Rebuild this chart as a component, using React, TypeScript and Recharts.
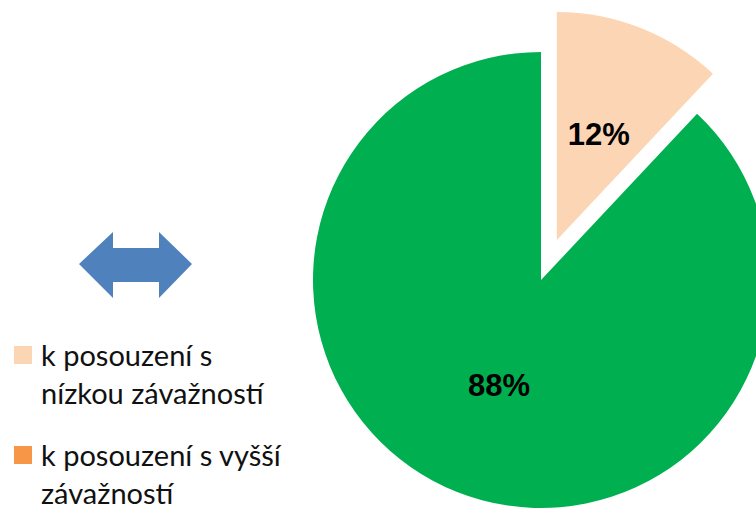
import { Cell, Pie, PieChart } from "recharts"

const categories = [
  "k posouzení s nízkou závažností",
  "ostatní",
]
const shares = [12, 88]
const sliceColors = ["#FCD5B5", "#00B050"]

const legendItems = [
  { lines: ["k posouzení s", "nízkou závažností"], color: "#FCD5B5" },
  { lines: ["k posouzení s vyšší", "závažností"], color: "#F79646" },
]

const data = categories.map((name, i) => ({ name, value: shares[i] }))

const RADIAN = Math.PI / 180
const RADIUS = 228
const CX = 541
const CY = 280
// explode offset for the first slice, along its bisector
const EXPLODE = 43

const makeLabel = (onlyIndex: number) => (props: any) => {
  const { cx, cy, midAngle, outerRadius, percent, index } = props
  if (index !== onlyIndex) return null
  const r = outerRadius * 0.5
  const x = cx + r * Math.cos(-midAngle * RADIAN)
  const y = cy + r * Math.sin(-midAngle * RADIAN)
  return (
    <text
      x={x}
      y={y}
      textAnchor="middle"
      dominantBaseline="central"
      fill="#000"
      fontFamily="'Liberation Sans', Arial, sans-serif"
      fontWeight="bold"
      fontSize={31}
    >
      {`${Math.round(percent * 100)}%`}
    </text>
  )
}

const midFirst = 90 - (shares[0] / (shares[0] + shares[1])) * 180
const ex = EXPLODE * Math.cos(midFirst * RADIAN)
const ey = -EXPLODE * Math.sin(midFirst * RADIAN)

export default function App() {
  return (
    <div
      style={{
        position: "fixed",
        left: 0,
        top: 0,
        width: 756,
        height: 508,
        overflow: "hidden",
        background: "#fff",
      }}
    >
      <PieChart width={756} height={508} margin={{ top: 0, right: 0, bottom: 0, left: 0 }}>
        <Pie
          data={data}
          dataKey="value"
          cx={CX}
          cy={CY}
          outerRadius={RADIUS}
          startAngle={90}
          endAngle={-270}
          stroke="none"
          labelLine={false}
          label={makeLabel(1)}
          isAnimationActive={false}
        >
          {data.map((d, i) => (
            <Cell key={d.name} fill={i === 1 ? sliceColors[i] : "none"} />
          ))}
        </Pie>
        <Pie
          data={data}
          dataKey="value"
          cx={CX + ex}
          cy={CY + ey}
          outerRadius={RADIUS}
          startAngle={90}
          endAngle={-270}
          stroke="none"
          labelLine={false}
          label={makeLabel(0)}
          isAnimationActive={false}
        >
          {data.map((d, i) => (
            <Cell key={d.name} fill={i === 0 ? sliceColors[i] : "none"} />
          ))}
        </Pie>
      </PieChart>

      <svg
        width={120}
        height={80}
        style={{ position: "absolute", left: 75, top: 225 }}
      >
        <polygon
          points="4,39 38,7 38,23 84,23 84,7 117,39 84,73 84,57 38,57 38,73"
          fill="#4F81BD"
        />
      </svg>

      {legendItems.map((item, i) => (
        <div
          key={i}
          style={{
            position: "absolute",
            left: 14,
            top: 336 + i * 100,
            fontFamily: "Lato, 'Noto Sans', sans-serif",
            fontSize: 29,
            lineHeight: "38px",
            color: "#111",
          }}
        >
          <div
            style={{
              position: "absolute",
              left: 0,
              top: 10,
              width: 18,
              height: 18,
              background: item.color,
            }}
          />
          {item.lines.map((line, j) => (
            <div key={j} style={{ marginLeft: 27, whiteSpace: "nowrap" }}>
              {line}
            </div>
          ))}
        </div>
      ))}
    </div>
  )
}
